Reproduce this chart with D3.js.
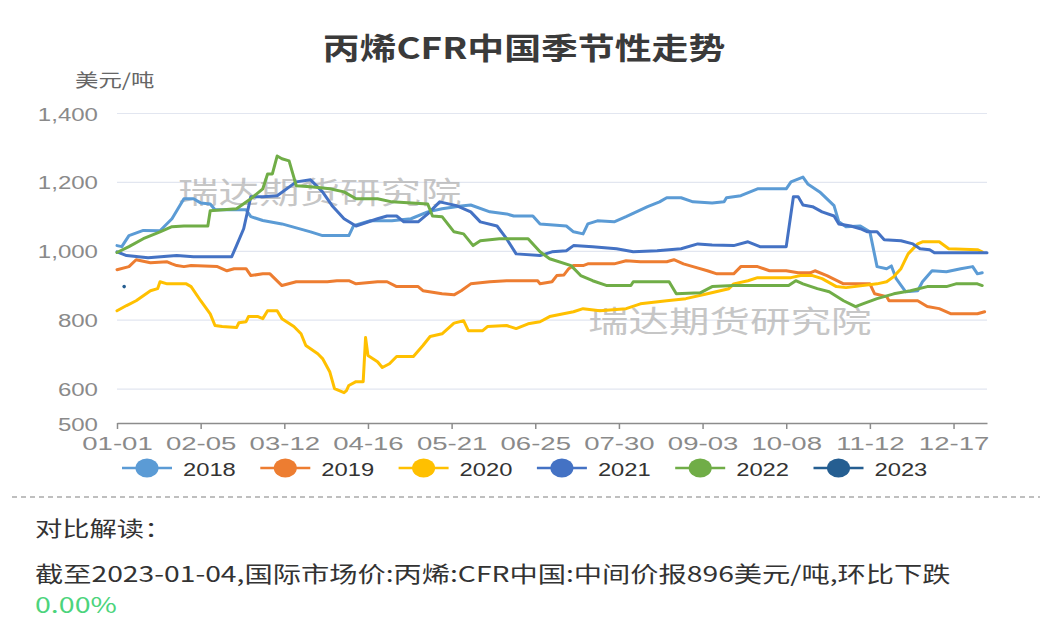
<!DOCTYPE html>
<html>
<head>
<meta charset="utf-8">
<script src="https://cdn.jsdelivr.net/npm/d3@7"></script>
<style>
  body { margin: 0; background: #fff; }
  svg { display: block; }
</style>
</head>
<body>
<svg id="chart"></svg>
<script>
// ---- data ----
const years = ["2018", "2019", "2020", "2021", "2022", "2023"];
const colors = ["#5b9bd5", "#ed7d31", "#ffc000", "#4472c4", "#70ad47", "#255e91"];
const xTickLabels = ["01-01", "02-05", "03-12", "04-16", "05-21", "06-25", "07-30", "09-03", "10-08", "11-12", "12-17"];
const yTicks = [500, 600, 800, 1000, 1200, 1400];

const s2018 = [["01-01",1015],["01-03",1012],["01-06",1044],["01-12",1059],["01-19",1058],["01-24",1093],["01-29",1151],["02-02",1151],["02-05",1139],["02-09",1136],["02-11",1119],["02-24",1119],["02-26",1099],["03-03",1088],["03-11",1078],["03-23",1055],["03-28",1044],["04-08",1044],["04-10",1073],["04-17",1087],["04-26",1087],["05-04",1093],["05-11",1113],["05-17",1122],["05-25",1130],["05-29",1133],["06-06",1113],["06-13",1107],["06-16",1101],["06-24",1101],["06-27",1078],["07-08",1072],["07-11",1055],["07-15",1049],["07-17",1078],["07-21",1087],["07-28",1084],["08-02",1099],["08-11",1128],["08-16",1142],["08-19",1154],["08-25",1154],["08-30",1142],["09-07",1139],["09-12",1142],["09-13",1154],["09-19",1160],["09-26",1180],["10-08",1180],["10-10",1200],["10-15",1214],["10-17",1194],["10-22",1171],["10-28",1131],["10-30",1084],["11-02",1070],["11-08",1072],["11-12",1055],["11-15",954],["11-19",948],["11-21",956],["11-23",919],["11-27",881],["12-02",884],["12-04",910],["12-08",942],["12-14",939],["12-20",948],["12-25",954],["12-27",933],["12-29",936]];

const s2019 = [["01-01",945],["01-06",954],["01-09",974],["01-11",971],["01-15",965],["01-22",968],["01-24",962],["01-26",957],["01-29",954],["02-01",957],["02-12",954],["02-16",942],["02-19",948],["02-24",948],["02-26",928],["03-03",933],["03-06",933],["03-11",899],["03-17",910],["03-30",910],["04-03",913],["04-08",913],["04-11",904],["04-20",910],["04-24",910],["04-28",896],["05-07",896],["05-09",884],["05-17",875],["05-22",872],["05-25",884],["05-29",904],["06-06",910],["06-13",913],["06-26",913],["06-27",904],["07-02",910],["07-04",928],["07-07",930],["07-09",948],["07-11",957],["07-15",957],["07-17",962],["07-28",962],["08-02",971],["08-08",968],["08-19",968],["08-22",974],["08-26",962],["08-30",954],["09-05",942],["09-09",933],["09-16",933],["09-19",954],["09-26",954],["10-01",942],["10-08",942],["10-13",936],["10-18",936],["10-20",942],["10-25",928],["11-01",904],["11-12",904],["11-14",875],["11-19",867],["11-20",855],["12-02",855],["12-06",838],["12-11",832],["12-16",817],["12-27",817],["12-30",823]];

const s2020 = [["01-01",826],["01-05",841],["01-09",855],["01-15",884],["01-18",890],["01-19",910],["01-22",904],["01-30",904],["02-01",896],["02-05",855],["02-09",817],["02-11",783],["02-14",780],["02-20",777],["02-21",791],["02-24",794],["02-25",809],["03-01",809],["03-03",803],["03-05",826],["03-09",826],["03-11",803],["03-16",780],["03-19",759],["03-21",725],["03-26",701],["03-28",687],["03-31",649],["04-02",600],["04-06",588],["04-07",594],["04-08",609],["04-11",620],["04-14",620],["04-15",748],["04-16",696],["04-20",678],["04-22",661],["04-25",672],["04-28",693],["05-05",693],["05-09",725],["05-12",751],["05-17",759],["05-22",790],["05-26",797],["05-28",768],["06-03",768],["06-05",780],["06-13",783],["06-17",774],["06-22",788],["06-27",794],["07-01",809],["07-11",823],["07-15",832],["07-22",826],["08-02",832],["08-08",846],["08-19",855],["08-27",861],["09-05",875],["09-14",890],["09-16",904],["09-22",913],["09-26",922],["10-10",922],["10-14",928],["10-19",928],["10-23",919],["10-29",896],["11-02",893],["11-15",904],["11-19",910],["11-22",925],["11-25",948],["11-28",991],["12-02",1020],["12-04",1026],["12-11",1026],["12-15",1006],["12-27",1003],["12-29",997]];

const s2021 = [["01-01",997],["01-05",986],["01-14",980],["01-26",986],["02-02",983],["02-18",983],["02-20",1015],["02-23",1064],["02-26",1157],["03-03",1157],["03-09",1160],["03-17",1200],["03-23",1206],["03-28",1171],["04-01",1131],["04-06",1093],["04-11",1072],["04-20",1093],["04-24",1101],["04-28",1101],["05-01",1084],["05-07",1084],["05-11",1107],["05-16",1142],["05-23",1131],["05-29",1113],["06-02",1084],["06-09",1072],["06-13",1035],["06-17",991],["06-27",986],["07-02",997],["07-08",1000],["07-11",1015],["07-19",1012],["07-29",1006],["08-05",997],["08-15",1000],["08-25",1006],["09-01",1020],["09-07",1017],["09-16",1015],["09-22",1026],["09-27",1012],["10-08",1012],["10-11",1157],["10-13",1157],["10-15",1133],["10-19",1128],["10-23",1113],["10-28",1101],["10-30",1078],["11-04",1072],["11-08",1064],["11-11",1055],["11-15",1055],["11-18",1032],["11-25",1029],["11-30",1020],["12-03",1006],["12-07",1003],["12-09",994],["12-31",994]];

const s2022 = [["01-01",995],["01-06",1012],["01-12",1035],["01-19",1055],["01-24",1070],["01-29",1072],["02-08",1072],["02-09",1116],["02-20",1122],["02-26",1151],["03-03",1180],["03-05",1223],["03-07",1223],["03-09",1275],["03-11",1267],["03-14",1261],["03-17",1189],["03-23",1186],["03-31",1180],["04-06",1171],["04-11",1151],["04-20",1151],["04-26",1142],["05-11",1136],["05-13",1101],["05-17",1099],["05-22",1055],["05-26",1049],["05-30",1015],["06-02",1029],["06-10",1035],["06-22",1035],["06-27",997],["07-01",977],["07-10",957],["07-14",928],["07-19",913],["07-25",899],["08-04",899],["08-05",910],["08-20",910],["08-23",875],["09-02",878],["09-07",896],["09-16",899],["10-09",899],["10-12",913],["10-15",904],["10-21",890],["10-26",881],["11-01",855],["11-06",838],["11-09",846],["11-15",861],["11-22",875],["11-29",884],["12-06",896],["12-14",896],["12-18",904],["12-27",904],["12-29",899]];

const s2023 = [["01-04",896]];

const series = [s2018, s2019, s2020, s2021, s2022, s2023];

// ---- setup ----
const W = 1051, H = 641;
const CJK = '"Noto Sans CJK SC", "Noto Sans", sans-serif';
const NUM = '"Liberation Sans", Arial, sans-serif';
const SX = 1.3; // the picture is stretched horizontally

const svg = d3.select("#chart").attr("width", W).attr("height", H);
svg.append("rect").attr("width", W).attr("height", H).attr("fill", "#fff");

function label(x, y, str, o) {
  return svg.append("text")
    .attr("transform", `translate(${x},${y}) scale(${o.sx || SX},1)`)
    .attr("text-anchor", o.anchor || "start")
    .style("font-family", o.font || CJK)
    .style("font-size", o.size + "px")
    .style("font-weight", o.weight || "normal")
    .attr("fill", o.color || "#333")
    .attr("opacity", o.opacity == null ? 1 : o.opacity)
    .text(str);
}

const parse = md => d3.timeParse("%Y-%m-%d")("2019-" + md);

const x = d3.scaleTime()
  .domain([parse("01-01"), parse("12-31")])
  .range([117, 987]);

const y = d3.scaleLinear()
  .domain([500, 1400])
  .range([423, 113]);

// title + unit
label(524, 59, "丙烯CFR中国季节性走势", { size: 29.5, sx: 1.25, weight: "bold", anchor: "middle", color: "#3a3a3a" });
label(75, 87, "美元/吨", { size: 18, color: "#666" });

// grid
svg.append("g")
  .attr("transform", "translate(117,0)")
  .call(d3.axisLeft(y).tickValues(yTicks.filter(v => v > 500)).tickSize(-870).tickFormat(""))
  .call(g => g.select(".domain").remove())
  .selectAll("line")
  .attr("stroke", "#e2e6f0")
  .attr("stroke-width", 1.2);

// watermarks
label(178, 203, "瑞达期货研究院", { size: 30, sx: 1.35, color: "#b4b4b4", opacity: 0.75 });
label(588, 332, "瑞达期货研究院", { size: 30, sx: 1.35, color: "#b4b4b4", opacity: 0.75 });

// Y axis labels
const ya = svg.append("g")
  .attr("transform", "translate(117,0)")
  .call(d3.axisLeft(y).tickValues(yTicks).tickSize(0).tickFormat(d3.format(",")));
ya.select(".domain").remove();
ya.selectAll("text")
  .attr("x", 0).attr("dy", null).attr("y", 7)
  .attr("transform", `translate(-19,0) scale(${SX},1)`)
  .attr("text-anchor", "end")
  .attr("fill", "#8a8a8a")
  .style("font-family", NUM)
  .style("font-size", "18.5px");

// X axis
const xa = svg.append("g")
  .attr("transform", "translate(0,423)")
  .call(d3.axisBottom(x)
    .tickValues(xTickLabels.map(parse))
    .tickSizeInner(6)
    .tickSizeOuter(0)
    .tickFormat((d, i) => xTickLabels[i]));
xa.select(".domain").attr("stroke", "#8c8c8c").attr("stroke-width", 1.5);
xa.selectAll(".tick line").attr("stroke", "#8c8c8c").attr("stroke-width", 1.5);
xa.selectAll("text")
  .attr("y", 0).attr("dy", null)
  .attr("transform", "translate(0,27) scale(1.45,1)")
  .attr("fill", "#8a8a8a")
  .style("font-family", NUM)
  .style("font-size", "19px");

// lines
const line = d3.line()
  .x(d => x(parse(d[0])))
  .y(d => y(d[1]));

series.forEach((s, i) => {
  if (s.length > 1) {
    svg.append("path")
      .datum(s)
      .attr("d", line)
      .attr("fill", "none")
      .attr("stroke", colors[i])
      .attr("stroke-width", 3)
      .attr("stroke-linejoin", "round")
      .attr("stroke-linecap", "round");
  } else {
    svg.append("circle")
      .attr("cx", x(parse(s[0][0])))
      .attr("cy", y(s[0][1]))
      .attr("r", 1.8)
      .attr("fill", colors[i]);
  }
});

// legend
years.forEach((yr, i) => {
  const cx = 147 + i * 138.3, cy = 468;
  svg.append("line")
    .attr("x1", cx - 25).attr("x2", cx + 25)
    .attr("y1", cy).attr("y2", cy)
    .attr("stroke", colors[i]).attr("stroke-width", 2.5);
  svg.append("ellipse")
    .attr("cx", cx).attr("cy", cy)
    .attr("rx", 11.5).attr("ry", 9.5)
    .attr("fill", colors[i]);
  label(cx + 36, 476, yr, { size: 19, sx: 1.25, font: NUM, color: "#333" });
});

// separator
svg.append("line")
  .attr("x1", 12).attr("x2", 1040)
  .attr("y1", 497).attr("y2", 497)
  .attr("stroke", "#aaa")
  .attr("stroke-width", 1.5)
  .attr("stroke-dasharray", "5,4");

// commentary
label(35, 535.5, "对比解读：", { size: 21, color: "#333" });
label(35, 581.5, "截至2023-01-04,国际市场价:丙烯:CFR中国:中间价报896美元/吨,环比下跌", { size: 22, sx: 1.285, color: "#333" });
label(35, 613, "0.00%", { size: 22, color: "#4cd47c" });
</script>
</body>
</html>
